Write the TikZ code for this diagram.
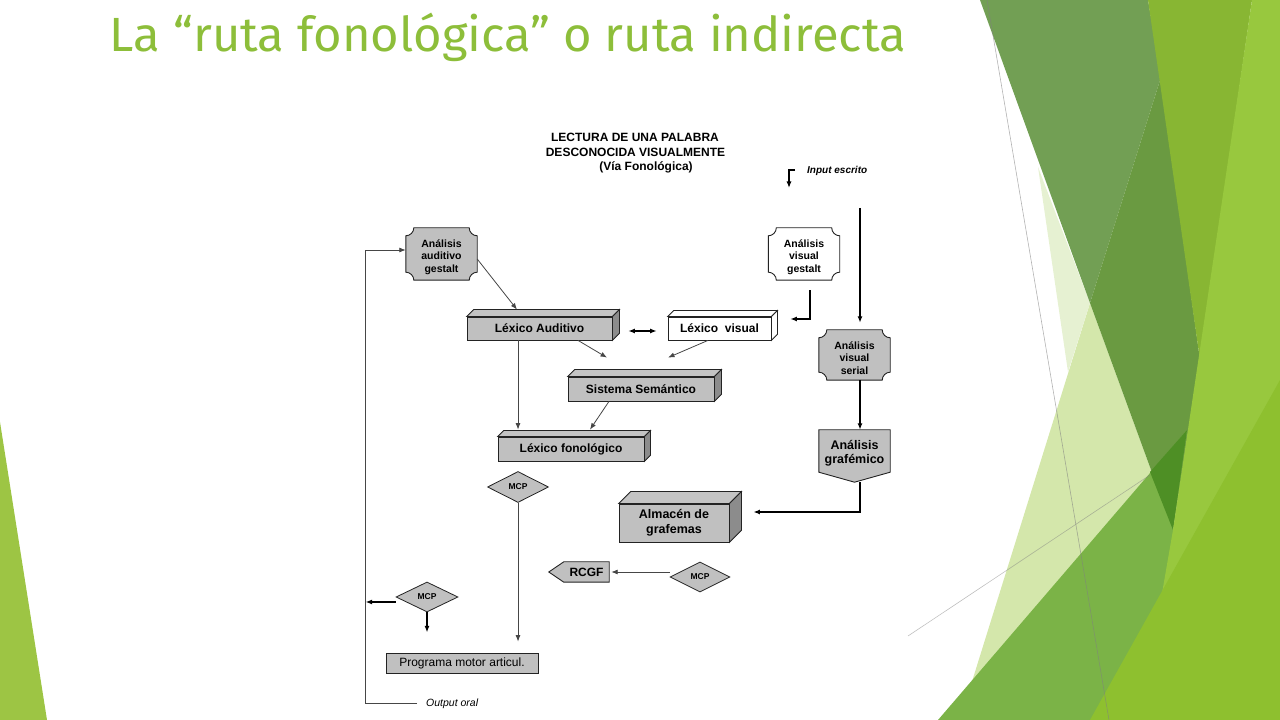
\documentclass[tikz,border=0pt]{standalone}
\usepackage{fontspec}
\setmainfont{Liberation Sans}
\newfontfamily\titlefont[FakeStretch=1.02]{Fira Sans}
\usetikzlibrary{shapes.geometric, arrows.meta, backgrounds}
\definecolor{titlegreen}{RGB}{141,190,58}
\definecolor{boxgray}{RGB}{192,192,192}
\definecolor{boxtop}{RGB}{196,196,196}
\definecolor{boxside}{RGB}{140,140,140}
\definecolor{edgegray}{RGB}{35,35,35}
\definecolor{linegray}{RGB}{70,70,70}
\definecolor{leftgreen}{HTML}{9DC544}
\definecolor{palegreen}{HTML}{D4E7AB}
\definecolor{palergreen}{HTML}{E6F1D2}
\definecolor{darkgreenA}{HTML}{729F54}
\definecolor{darkgreenB}{HTML}{6A9A41}
\definecolor{midgreen}{HTML}{88B633}
\definecolor{lightgreen}{HTML}{98C83E}
\definecolor{grassgreen}{HTML}{7BB347}
\definecolor{deepgreen}{HTML}{4E8F25}
\definecolor{brightgreen}{HTML}{8EC02F}
\tikzset{
    >={Latex[length=6.5pt,width=5pt]}, % small filled heads
    plaque/.style={minimum width=71pt, minimum height=52pt, inner sep=0pt, align=center, font=\fontsize{10.5}{12.5}\selectfont\bfseries},
    frontbox/.style={draw=edgegray, line width=0.8pt, fill=boxgray, minimum height=23pt, inner sep=0pt, font=\fontsize{12}{15}\selectfont\bfseries},
    mcpdiamond/.style={diamond, draw=edgegray, line width=0.8pt, fill=boxgray, minimum width=61pt, minimum height=31pt, inner sep=0pt, font=\fontsize{8.5}{10}\selectfont\bfseries},
    headtext/.style={anchor=base, inner sep=0pt, font=\fontsize{12}{15}\selectfont\bfseries},
    link/.style={->, draw=linegray, line width=0.8pt},
    heavylink/.style={->, draw=black, line width=1.5pt},
}
\begin{document}
\begin{tikzpicture}[x=1pt, y=1pt]
\useasboundingbox (0,0) rectangle (1280,720);

% slide decoration
\fill[leftgreen] (0,298) -- (47,0) -- (0,0) -- cycle;
\fill[palegreen] (1090,417) -- (960,0) -- (1120,0) -- (1173,190) -- cycle;
\fill[palergreen] (1038,553) -- (1090,417) -- (1068,348) -- cycle;
\fill[darkgreenA] (980,720) -- (1148,720) -- (1161,643) -- (1090,417) -- cycle;
\fill[darkgreenB] (1161,643) -- (1200,360) -- (1173,190) -- (1090,417) -- cycle;
\fill[midgreen] (1148,720) -- (1252,720) -- (1200,360) -- cycle;
\fill[grassgreen] (938,0) -- (1187,290) -- (1173,190) -- (1205,190) -- (1130,0) -- cycle;
\fill[deepgreen] (1150,248) -- (1187,290) -- (1173,190) -- cycle;
\fill[lightgreen] (1252,720) -- (1280,720) -- (1280,0) -- (1140,0) -- (1173,190) -- cycle;
\fill[brightgreen] (1090,0) -- (1280,340) -- (1280,0) -- cycle;
\draw[gray, opacity=0.6, line width=0.6pt] (987,720) -- (1109,0);
\draw[gray, opacity=0.5, line width=0.6pt] (908,84) -- (1150,245);

% title
\node[anchor=base, text=titlegreen, font={\titlefont\fontsize{48}{50}\selectfont}] (title) at (508,668) {La “ruta fonológica” o ruta indirecta};

% heading of the scheme
\node[headtext] (head1) at (635,578.5) {LECTURA DE UNA PALABRA};
\node[headtext] (head2) at (635.5,563.5) {DESCONOCIDA VISUALMENTE};
\node[headtext] (head3) at (646,549.5) {(Vía Fonológica)};
\node[anchor=base west, inner sep=0pt, font=\fontsize{10}{12}\selectfont\bfseries\itshape] (inp) at (807,546.5) {Input escrito};
\node[anchor=base west, inner sep=0pt, font=\fontsize{10.5}{12}\selectfont\itshape] (out) at (426,13) {Output oral};

% boxes
\node[plaque] (audg) at (441.5,463) {Análisis\\auditivo\\gestalt};
\node[plaque] (visg) at (804,463) {Análisis\\visual\\gestalt};
\node[plaque, minimum height=50pt] (serial) at (854.5,362) {Análisis\\visual\\serial};
\node[plaque, minimum height=38pt, font=\fontsize{12.5}{14.5}\selectfont\bfseries] (graf) at (854.5,267) {Análisis\\grafémico};
\node[frontbox, minimum width=145pt] (lexaud) at (539.5,391.5) {Léxico Auditivo};
\node[frontbox, fill=white, minimum width=103pt] (lexvis) at (719.5,391.5) {Léxico\ \ visual};
\node[frontbox, minimum width=146pt, minimum height=24pt] (sem) at (641,331) {Sistema Semántico};
\node[frontbox, minimum width=146pt, minimum height=24pt] (fon) at (571,271) {Léxico fonológico};
\node[frontbox, minimum width=110pt, minimum height=38pt, align=center, font=\fontsize{12.5}{15}\selectfont\bfseries] (alm) at (674,197) {Almacén de\\grafemas};
\node[minimum width=45pt, minimum height=20pt, inner sep=0pt, font=\fontsize{12}{14}\selectfont\bfseries] (rcgf) at (586.5,148) {RCGF};
\node[frontbox, minimum width=152pt, minimum height=20pt, font=\fontsize{12}{14}\selectfont] (prog) at (462,57) {Programa motor articul.};
\node[mcpdiamond] (mcp1) at (518,233) {MCP};
\node[mcpdiamond, minimum width=60pt, minimum height=30pt] (mcp2) at (700,143) {MCP};
\node[mcpdiamond, minimum width=62pt, minimum height=30pt] (mcp3) at (427,123) {MCP};
\coordinate (grafpt) at ([yshift=-10pt]graf.south);
\coordinate (rcgfpt) at ([xshift=-15pt]rcgf.west);
\coordinate (inpturn) at (789,532);
\coordinate (inpstart) at (860,512);

% outlines behind the texts
\begin{scope}[on background layer]
\foreach \n/\c in {audg/boxgray, visg/white, serial/boxgray}
    \draw[fill=\c, draw=edgegray, line width=0.9pt] ([shift={(0,-5)}]\n.north west) arc[start angle=270, end angle=360, radius=8pt]
        -- ([shift={(-8,3)}]\n.north east) arc[start angle=180, end angle=270, radius=8pt]
        -- ([shift={(0,11)}]\n.south east) arc[start angle=90, end angle=180, radius=8pt]
        -- ([shift={(8,3)}]\n.south west) arc[start angle=0, end angle=90, radius=8pt] -- cycle;
\draw[fill=boxgray, draw=edgegray, line width=0.9pt] ([yshift=4pt]graf.north west) -- ([yshift=4pt]graf.north east) -- (graf.south east) -- (grafpt) -- (graf.south west) -- cycle;
\draw[fill=boxgray, draw=edgegray, line width=0.9pt] (rcgf.north west) -- (rcgf.north east) -- (rcgf.south east) -- (rcgf.south west) -- (rcgfpt) -- cycle;
\end{scope}

% depth of the blocks
\foreach \n/\t/\s/\d in {lexaud/boxtop/boxside/7, lexvis/white/white/6, sem/boxtop/boxside/7, fon/boxtop/boxside/6, alm/boxtop/boxside/12} {
    \draw[fill=\t, draw=edgegray, line width=0.8pt] (\n.north west) -- ++(\d,\d) -- ([shift={(\d,\d)}]\n.north east) -- (\n.north east) -- cycle;
    \draw[fill=\s, draw=edgegray, line width=0.8pt] (\n.north east) -- ++(\d,\d) -- ([shift={(\d,\d)}]\n.south east) -- (\n.south east) -- cycle;
}

% connectors
\draw[link, draw=black, line width=1.2pt] ([xshift=-12pt,yshift=3.5pt]inp.base west) -| (inpturn);
\draw[heavylink] (inpstart) -- ([xshift=5.5pt,yshift=10pt]serial.north);
\draw[link] ([yshift=-2pt]audg.east) -- ([xshift=-22.5pt,yshift=7pt]lexaud.north);
\draw[link, <->, draw=black, line width=1.2pt] ([xshift=16pt,yshift=-2.5pt]lexaud.east) -- ([xshift=-11pt,yshift=-2.5pt]lexvis.west);
\draw[link, draw=black, line width=1.2pt] ([xshift=6pt,yshift=-7pt]visg.south) |- ([xshift=19pt,yshift=9.5pt]lexvis.east);
\draw[link] ([xshift=38.5pt]lexaud.south) -- ([xshift=-34pt,yshift=19pt]sem.north);
\draw[link] ([xshift=-11.5pt]lexvis.south) -- ([xshift=27pt,yshift=19pt]sem.north);
\draw[link] ([xshift=-21.5pt]lexaud.south) -- ([xshift=-53pt,yshift=7pt]fon.north);
\draw[link] ([xshift=-32pt]sem.south) -- ([xshift=19pt,yshift=7pt]fon.north);
\draw[link] (mcp1.south) -- ([xshift=56pt,yshift=11pt]prog.north);
\draw[heavylink] ([xshift=5.5pt,yshift=3pt]serial.south) -- ([xshift=5.5pt,yshift=4pt]graf.north);
\draw[heavylink] ([xshift=5.5pt]grafpt) |- ([xshift=24pt,yshift=11pt]alm.east);
\draw[link] (mcp2.west |- rcgf.east) -- ([xshift=2pt]rcgf.east);
\draw[heavylink] ([yshift=-5pt]mcp3.west) -- ++(-30pt,0);
\draw[heavylink] (mcp3.south) -- ++(0,-20pt);
\draw[link] ([xshift=-9pt,yshift=4pt]out.base west) -| ([xshift=-40pt,yshift=7pt]audg.west) -- ([yshift=7pt]audg.west);
\end{tikzpicture}
\end{document}
